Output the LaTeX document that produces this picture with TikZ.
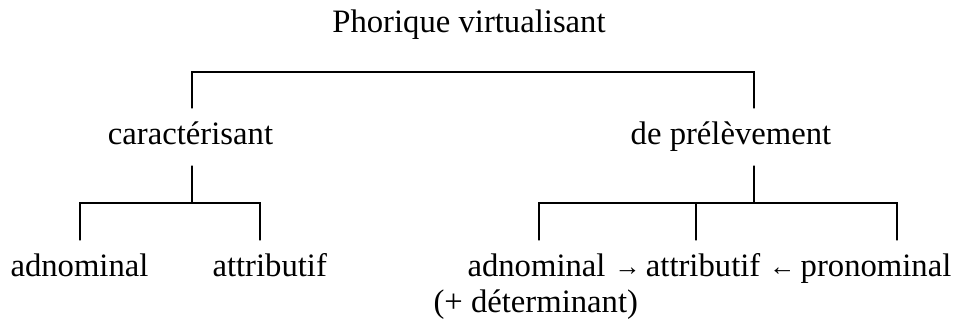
\documentclass[tikz,border=0pt]{standalone}
\usepackage{fontspec}
\setmainfont{Liberation Serif}
\usepackage{tikz}
\newcommand{\smallarr}[1]{\hspace{5pt}{\fontsize{15}{18}\selectfont\raisebox{0.8pt}{#1}}\hspace{3pt}}

\begin{document}
\begin{tikzpicture}[font=\fontsize{18.6}{22}\selectfont,line width=0.6pt,line cap=round,
  lab/.style={anchor=base,inner sep=0pt}]
\useasboundingbox (0,0) rectangle (19.08,6.44);
\node[lab] (root) at (9.38,5.78) {Phorique virtualisant};
\node[lab] (car) at (3.81,3.54) {caractérisant};
\node[lab] (prel) at (14.62,3.54) {de prélèvement};
\node[lab] (adn) at (1.59,0.90) {adnominal};
\node[lab,anchor=base west] (att) at (4.24,0.90) {attributif};
\node[lab,anchor=base west] (chain) at (9.34,0.90) {adnominal\smallarr{→}attributif\smallarr{←}pronominal};
\node[lab,anchor=base west] (det) at (8.66,0.18) {(+ déterminant)};
% first level
\coordinate (r1) at (3.84,5.00);
\coordinate (r2) at (15.08,5.00);
\draw (3.84,4.28) -- (r1) -- (r2) -- (15.08,4.28);
% caracterisant
\coordinate (c0) at (3.84,3.12);
\coordinate (c1) at (1.60,2.38);
\coordinate (c2) at (5.20,2.38);
\draw (c0) -- (3.84,2.38);
\draw (1.60,1.64) -- (c1) -- (c2) -- (5.20,1.64);
% de prelevement
\coordinate (p0) at (15.08,3.12);
\coordinate (p1) at (10.78,2.38);
\coordinate (p2) at (17.94,2.38);
\draw (p0) -- (15.08,2.38);
\draw (10.78,1.64) -- (p1) -- (p2) -- (17.94,1.64);
\draw (13.92,2.38) -- (13.92,1.64);
\end{tikzpicture}
\end{document}
